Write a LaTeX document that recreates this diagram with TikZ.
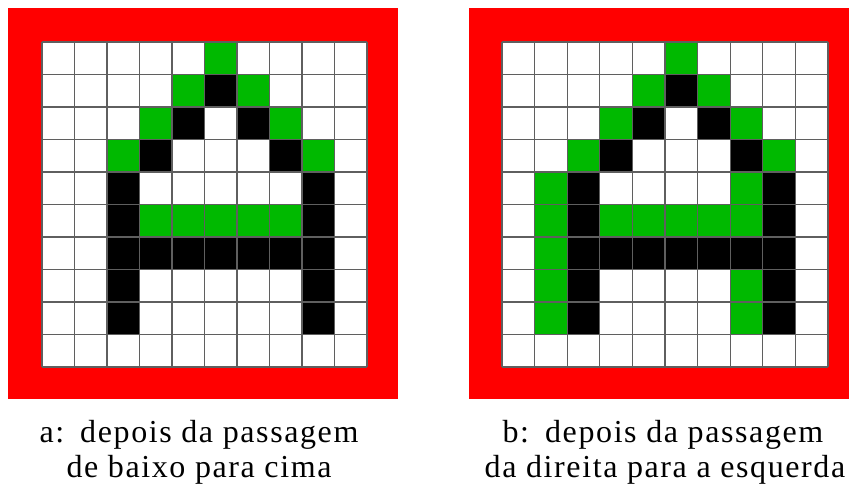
\documentclass[tikz,border=0pt]{standalone}
\usepackage{fontspec}
\setmainfont{Liberation Serif}
\definecolor{framered}{RGB}{255,0,0}
\definecolor{pixgreen}{RGB}{0,185,0}
\definecolor{gridgray}{RGB}{95,95,95}
\begin{document}
\begin{tikzpicture}[x=1pt,y=-1pt,
  gridline/.style={draw=gridgray, line width=1.3pt},
  caption/.style={font=\fontsize{32}{38}\selectfont\addfontfeature{LetterSpace=5}, anchor=base, inner sep=0pt}]
\useasboundingbox[fill=white] (0,0) rectangle (849,487);
% ---------- left panel ----------
\fill[framered] (8,8) rectangle (398,399);
\fill[white] (42,42) rectangle (367,367);
\begin{scope}[shift={(42,42)}, x=32.5pt, y=-32.5pt]
  \foreach \c/\r in {5/0,4/1,6/1,3/2,7/2,2/3,8/3,3/5,4/5,5/5,6/5,7/5}
    \fill[pixgreen] (\c,\r) rectangle ++(1,1);
  \foreach \c/\r in {5/1,4/2,6/2,3/3,7/3,2/4,8/4,2/5,8/5,2/6,3/6,4/6,5/6,6/6,7/6,8/6,2/7,8/7,2/8,8/8}
    \fill[black] (\c,\r) rectangle ++(1,1);
  \foreach \i in {0,...,10} {
    \draw[gridline] (\i,0) -- (\i,10);
    \draw[gridline] (0,\i) -- (10,\i);
  }
\end{scope}
% ---------- right panel ----------
\fill[framered] (469,8) rectangle (849,399);
\fill[white] (502,42) rectangle (828,367);
\begin{scope}[shift={(502,42)}, x=32.6pt, y=-32.5pt]
  \foreach \c/\r in {5/0,4/1,6/1,3/2,7/2,2/3,8/3,1/4,7/4,1/5,3/5,4/5,5/5,6/5,7/5,1/6,1/7,7/7,1/8,7/8}
    \fill[pixgreen] (\c,\r) rectangle ++(1,1);
  \foreach \c/\r in {5/1,4/2,6/2,3/3,7/3,2/4,8/4,2/5,8/5,2/6,3/6,4/6,5/6,6/6,7/6,8/6,2/7,8/7,2/8,8/8}
    \fill[black] (\c,\r) rectangle ++(1,1);
  \foreach \i in {0,...,10} {
    \draw[gridline] (\i,0) -- (\i,10);
    \draw[gridline] (0,\i) -- (10,\i);
  }
\end{scope}
% ---------- captions ----------
\node[caption] (capa1) at (199,442) {a:\hspace{0.5em}depois da passagem};
\node[caption] (capa2) at (199,477) {de baixo para cima};
\node[caption] (capb1) at (663,442) {b:\hspace{0.5em}depois da passagem};
\node[caption] (capb2) at (665,477) {da direita para a esquerda};
\end{tikzpicture}
\end{document}
